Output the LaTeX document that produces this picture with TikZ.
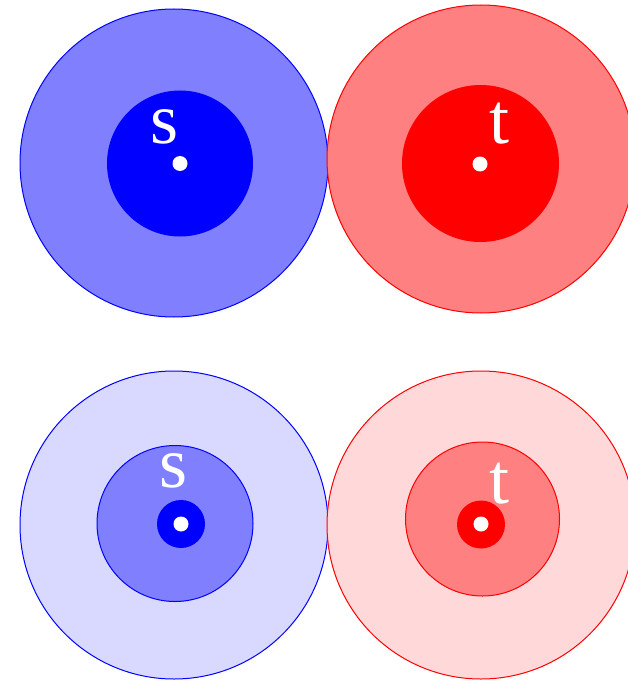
\documentclass[tikz,border=0pt]{standalone}
\usepackage{fontspec}
\setmainfont{Liberation Serif}
\begin{document}
\begin{tikzpicture}[x=1pt,y=-1pt,
  bluering/.style={draw=blue,line width=1pt},
  redring/.style={draw=red,line width=1pt},
  dot/.style={fill=white},
  lbl/.style={text=white,inner sep=0pt,anchor=base,font=\fontsize{72}{80}\selectfont\rmfamily}]
\useasboundingbox (0,0) rectangle (628,682);
\clip (0,0) rectangle (628,682);
% top row
\fill[blue!50,bluering] (174,163) circle[radius=154pt];
\fill[blue] (180,163.5) circle[radius=73pt];
\fill[dot] (180,163.5) circle[radius=7.5pt];
\node[lbl] (s1) at (165,143) {s};
\fill[red!50,redring] (481,159) circle[radius=154pt];
\fill[red] (480.5,163.5) circle[radius=78.5pt];
\fill[dot] (480,164) circle[radius=7.5pt];
\node[lbl] (t1) at (499,143) {t};
% bottom row
\fill[blue!15,bluering] (174,525) circle[radius=154pt];
\fill[blue!50,bluering] (175,523.5) circle[radius=78pt];
\fill[blue] (181,524) circle[radius=24pt];
\fill[dot] (181,524) circle[radius=7.5pt];
\node[lbl] (s2) at (173.5,487) {s};
\fill[red!15,redring] (481,525) circle[radius=154pt];
\fill[red!50,redring] (482.5,519) circle[radius=77pt];
\fill[red] (481,524.5) circle[radius=24pt];
\fill[dot] (481,524) circle[radius=7.5pt];
\node[lbl] (t2) at (499,503) {t};
\end{tikzpicture}
\end{document}
